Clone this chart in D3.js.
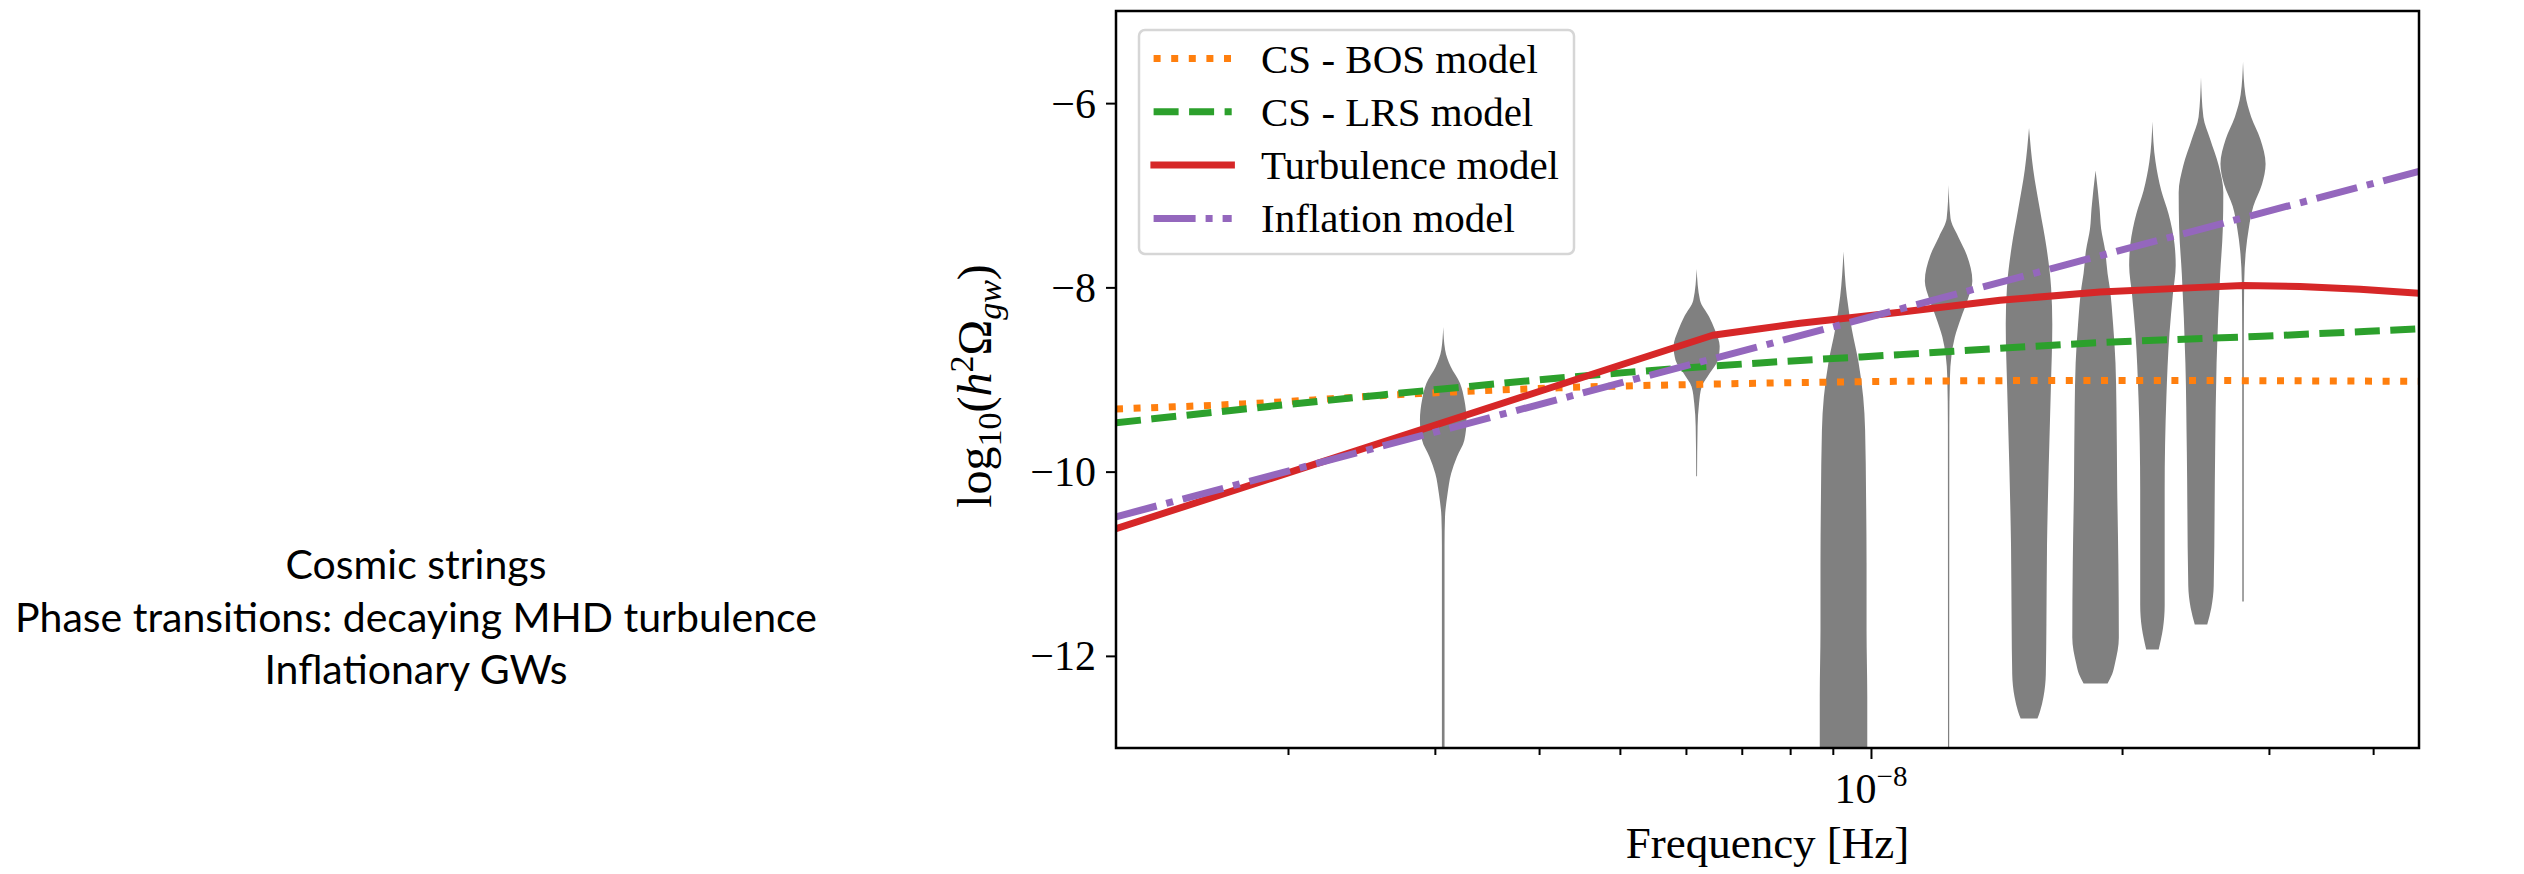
<!DOCTYPE html>
<html><head><meta charset="utf-8">
<script src="https://cdn.jsdelivr.net/npm/d3@7"></script>
<style>
html,body{margin:0;padding:0;background:#fff;}
svg{display:block;}
</style></head>
<body>
<svg id="chart" width="2524" height="874"></svg>
<script>
// ---------------- data ----------------
const sideText = ["Cosmic strings", "Phase transitions: decaying MHD turbulence", "Inflationary GWs"];
const seriesNames = ["CS - BOS model", "CS - LRS model", "Turbulence model", "Inflation model"];
const yTicks = [-12, -10, -8, -6];
const xMajorTicks = [1e-8];
const xMinorTicks = [2e-9, 3e-9, 4e-9, 5e-9, 6e-9, 7e-9, 8e-9, 9e-9, 2e-8, 3e-8, 4e-8];
const xDomain = [1.244e-9, 4.54e-8];
const yDomain = [-13, -5];

// model curves: [frequency (Hz), log10(h^2 Omega_gw)]
const csBOS = [[1.244e-9,-9.32],[1.815e-9,-9.26],[2.77e-9,-9.16],[4.22e-9,-9.09],[6.45e-9,-9.05],[1.071e-8,-9.02],[1.882e-8,-9.01],[4.54e-8,-9.02]];
const csLRS = [[1.244e-9,-9.47],[2.577e-9,-9.17],[5.14e-9,-8.92],[7.36e-9,-8.82],[1.083e-8,-8.73],[1.882e-8,-8.60],[2.944e-8,-8.53],[4.54e-8,-8.45]];
const turbulence = [[1.244e-9,-10.62],[2.577e-9,-9.69],[5.14e-9,-8.81],[6.46e-9,-8.52],[7.36e-9,-8.45],[8.22e-9,-8.39],[1.083e-8,-8.27],[1.428e-8,-8.14],[1.882e-8,-8.05],[2.48e-8,-8.00],[2.793e-8,-7.98],[3.269e-8,-7.99],[3.858e-8,-8.02],[4.54e-8,-8.065]];
const inflation = [[1.244e-9,-10.49],[2.577e-9,-9.73],[5.14e-9,-9.01],[7.36e-9,-8.64],[1.806e-8,-7.70],[4.54e-8,-6.74]];

// violin frequencies and shapes: [log10(h^2 Omega), relative half-width]
const violinFreqs = [3.07e-9, 6.18e-9, 9.27e-9, 1.239e-8, 1.547e-8, 1.859e-8, 2.175e-8, 2.487e-8, 2.793e-8];
const violin1 = [[-8.43,0],[-8.68,.08],[-8.86,.31],[-9.04,.70],[-9.22,.88],[-9.44,.97],[-9.66,.88],[-9.84,.57],[-10.02,.33],[-10.24,.18],[-10.49,.075],[-10.8,.055],[-14,.055]];
const violin2 = [[-7.8,0],[-8.14,.14],[-8.32,.52],[-8.46,.76],[-8.64,.96],[-8.79,.88],[-8.93,.55],[-9.08,.21],[-9.26,.10],[-9.51,.04],[-10.05,.017]];
const violin3 = [[-7.61,0],[-8.10,.14],[-8.46,.35],[-8.82,.63],[-9.19,.82],[-9.55,.90],[-10.27,.94],[-10.99,.96],[-11.72,.96],[-12.44,.99],[-14,.99]];
const violin4 = [[-6.89,0],[-7.25,.08],[-7.45,.40],[-7.65,.76],[-7.93,.99],[-8.13,.80],[-8.33,.52],[-8.54,.26],[-8.74,.12],[-8.98,.055],[-9.5,.03],[-14,.025]];
const violin5 = [[-6.27,0],[-6.72,.175],[-7.15,.45],[-7.57,.73],[-8.0,.92],[-8.4,.97],[-9.1,.91],[-9.95,.82],[-10.8,.75],[-11.65,.725],[-12.2,.70],[-12.45,.60],[-12.6,.46],[-12.68,.35]];
const violin6 = [[-6.73,0],[-7.15,.17],[-7.36,.23],[-7.6,.40],[-7.85,.50],[-8.0,.59],[-8.4,.73],[-8.82,.83],[-9.3,.87],[-10.15,.90],[-11.0,.95],[-11.8,.97],[-12.08,.81],[-12.2,.69],[-12.30,.50]];
const violin7 = [[-6.2,0],[-6.64,.13],[-6.95,.37],[-7.2,.67],[-7.53,.92],[-7.76,.97],[-8.08,.85],[-8.5,.71],[-9.2,.58],[-10.2,.51],[-11.45,.51],[-11.7,.44],[-11.93,.26]];
const violin8 = [[-5.72,0],[-6.15,.10],[-6.39,.38],[-6.68,.74],[-6.97,.93],[-7.36,.91],[-7.85,.80],[-8.82,.65],[-9.79,.59],[-11.24,.53],[-11.48,.43],[-11.66,.26]];
const violin9 = [[-5.55,0],[-5.91,.10],[-6.15,.34],[-6.39,.72],[-6.66,.94],[-6.88,.79],[-7.12,.43],[-7.36,.24],[-7.60,.12],[-7.94,.05],[-8.5,.035],[-11.41,.03]];
const violins = [violin1, violin2, violin3, violin4, violin5, violin6, violin7, violin8, violin9];

// ---------------- drawing ----------------
const svg = d3.select("#chart");
const L = 1116, R = 2419, T = 11, B = 748;
const x = d3.scaleLog().domain(xDomain).range([L, R]);
const y = d3.scaleLinear().domain(yDomain).range([B, T]);
const w = d3.scaleLinear().domain([0, 1]).range([0, 24]);
const serif = "'Liberation Serif', 'Times New Roman', serif";

svg.append("rect").attr("width", 2524).attr("height", 874).attr("fill", "#fff");

svg.append("defs").append("clipPath").attr("id", "plotclip")
  .append("rect").attr("x", L).attr("y", T).attr("width", R - L).attr("height", B - T);

const plot = svg.append("g").attr("clip-path", "url(#plotclip)");

// violins
const area = d3.area().curve(d3.curveMonotoneY);
plot.selectAll("path.violin").data(violins).join("path")
  .attr("class", "violin")
  .attr("fill", "#808080")
  .attr("d", (d, i) => {
    const cx = x(violinFreqs[i]);
    return area.y(p => y(p[0])).x0(p => cx - w(p[1])).x1(p => cx + w(p[1]))(d);
  });

// lines
const lw = 7;
const series = [
  {data: csBOS, color: "#ff7f0e", dash: [7, 10.6], curve: d3.curveMonotoneX},
  {data: csLRS, color: "#2ca02c", dash: [25, 10.5], curve: d3.curveMonotoneX},
  {data: turbulence, color: "#d62728", dash: null, curve: d3.curveLinear},
  {data: inflation, color: "#9467bd", dash: [42, 10, 7, 10], curve: d3.curveLinear}
];
series.forEach((s, i) => { s.name = seriesNames[i]; });

plot.selectAll("path.model").data(series).join("path")
  .attr("class", "model")
  .attr("fill", "none")
  .attr("stroke", s => s.color)
  .attr("stroke-width", lw)
  .attr("stroke-linejoin", "round")
  .attr("stroke-dasharray", s => s.dash ? s.dash.join(",") : null)
  .attr("d", s => d3.line().curve(s.curve).x(p => x(p[0])).y(p => y(p[1]))(s.data));

// axes
const xMinor = svg.append("g").attr("transform", `translate(0,${B})`)
  .call(d3.axisBottom(x).tickValues(xMinorTicks).tickSize(7).tickFormat(""));
const xMajor = svg.append("g").attr("transform", `translate(0,${B})`)
  .call(d3.axisBottom(x).tickValues(xMajorTicks).tickSize(11).tickFormat(""));
const yAxis = svg.append("g").attr("transform", `translate(${L},0)`)
  .call(d3.axisLeft(y).tickValues(yTicks).tickSize(10).tickPadding(10)
    .tickFormat(d => "\u2212" + Math.abs(d)));
[xMinor, xMajor, yAxis].forEach(g => {
  g.select(".domain").remove();
  g.selectAll(".tick line").attr("stroke", "#000").attr("stroke-width", 2);
});
yAxis.selectAll(".tick text")
  .attr("font-family", serif).attr("font-size", 42).attr("fill", "#000").attr("dy", "0.33em");

// 10^-8 label
const xl = svg.append("g").selectAll("text").data(xMajorTicks).join("text")
  .attr("x", d => x(d)).attr("y", 803)
  .attr("text-anchor", "middle")
  .attr("font-family", serif).attr("font-size", 42);
xl.append("tspan").text("10");
xl.append("tspan").attr("dy", -17).attr("font-size", 29).text(d => "\u2212" + Math.round(-Math.log10(d)));

// frame
svg.append("rect").attr("x", L).attr("y", T).attr("width", R - L).attr("height", B - T)
  .attr("fill", "none").attr("stroke", "#000").attr("stroke-width", 2.5);

// axis labels
svg.append("text").attr("x", (L + R) / 2).attr("y", 858).attr("text-anchor", "middle")
  .attr("font-family", serif).attr("font-size", 45).text("Frequency [Hz]");

const yl = svg.append("text").attr("transform", "translate(991,386) rotate(-90)")
  .attr("text-anchor", "middle").attr("font-family", serif).attr("font-size", 48);
yl.append("tspan").text("log");
yl.append("tspan").attr("font-size", 34).attr("dy", 10).text("10");
yl.append("tspan").attr("dy", -10).text("(");
yl.append("tspan").attr("font-style", "italic").text("h");
yl.append("tspan").attr("font-size", 34).attr("dy", -18).text("2");
yl.append("tspan").attr("dy", 18).text("Ω");
yl.append("tspan").attr("font-size", 34).attr("font-style", "italic").attr("dy", 10).text("gw");
yl.append("tspan").attr("dy", -10).text(")");

// legend
const leg = svg.append("g");
leg.append("rect").attr("x", 1139).attr("y", 30).attr("width", 435).attr("height", 224)
  .attr("rx", 6).attr("fill", "#fff").attr("fill-opacity", 0.8)
  .attr("stroke", "#d6d6d6").attr("stroke-width", 2.5);
const rows = leg.selectAll("g.row").data(series).join("g")
  .attr("class", "row")
  .attr("transform", (d, i) => `translate(0,${58.5 + i * 53.3})`);
rows.append("line")
  .attr("x1", d => d.dash ? 1153.6 : 1150.4).attr("x2", d => d.dash ? 1231.7 : 1234.9)
  .attr("stroke", d => d.color).attr("stroke-width", lw)
  .attr("stroke-dasharray", d => d.dash ? d.dash.join(",") : null);
rows.append("text").attr("x", 1261).attr("y", 14)
  .attr("font-family", serif).attr("font-size", 41).text(d => d.name);

// side text
svg.append("g").selectAll("text").data(sideText).join("text")
  .attr("x", 416).attr("y", (d, i) => 579 + i * 52.5)
  .attr("text-anchor", "middle")
  .attr("font-family", "Lato, 'Noto Sans', sans-serif").attr("font-size", 41)
  .text(d => d);
</script>
</body></html>
